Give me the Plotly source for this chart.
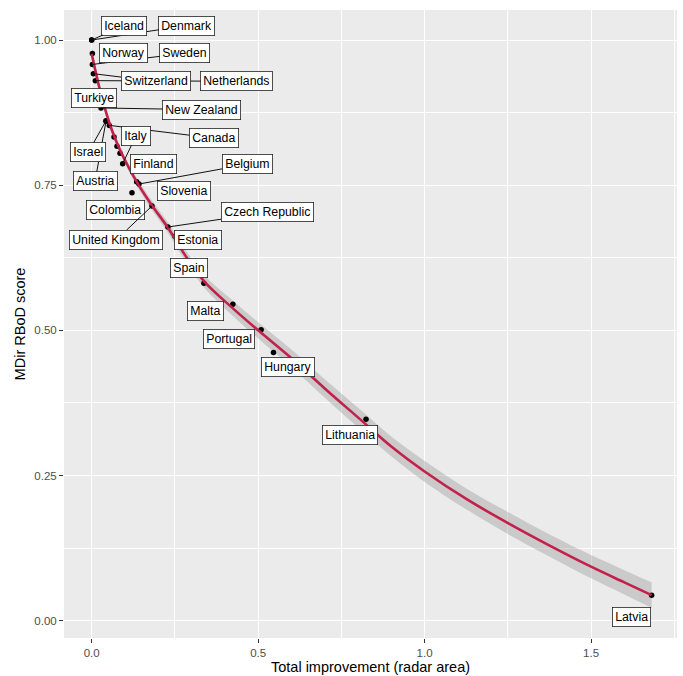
import plotly.graph_objects as go

# Country scores: total improvement (radar area) vs MDir RBoD score
countries = ["Iceland", "Denmark", "Norway", "Sweden", "Switzerland", "Netherlands",
             "Turkiye", "New Zealand", "Israel", "Austria", "Canada", None, None,
             "Finland", "Italy", "Slovenia", "Belgium", "Colombia", "United Kingdom",
             "Czech Republic", "Estonia", "Spain", "Malta", "Portugal", "Hungary",
             "Lithuania", "Latvia"]
improvement = [0.000, 0.000, 0.002, 0.002, 0.005, 0.011, 0.016, 0.028, 0.043, 0.043,
               0.053, 0.067, 0.076, 0.085, 0.093, 0.135, 0.142, 0.121, 0.181,
               0.229, 0.250, 0.337, 0.424, 0.509, 0.546, 0.824, 1.682]
score = [1.000, 1.000, 0.977, 0.958, 0.942, 0.930, 0.909, 0.883, 0.861, 0.860,
         0.853, 0.833, 0.817, 0.805, 0.787, 0.756, 0.752, 0.737, 0.714,
         0.678, 0.662, 0.581, 0.545, 0.501, 0.462, 0.347, 0.044]

# Smoothed trend with its confidence band
fit_x = [0.000, 0.010, 0.020, 0.030, 0.045, 0.060, 0.080, 0.100, 0.125, 0.150, 0.180,
         0.230, 0.280, 0.340, 0.420, 0.500, 0.600, 0.700, 0.810, 0.900, 1.000,
         1.130, 1.260, 1.380, 1.500, 1.600, 1.682]
fit_y = [0.976, 0.950, 0.925, 0.903, 0.872, 0.846, 0.817, 0.793, 0.766, 0.742, 0.716,
         0.676, 0.630, 0.583, 0.540, 0.500, 0.452, 0.400, 0.345, 0.300, 0.257,
         0.208, 0.165, 0.128, 0.093, 0.066, 0.044]
fit_se = [0.012, 0.009, 0.007, 0.006, 0.006, 0.006, 0.006, 0.006, 0.006, 0.007, 0.008,
          0.009, 0.010, 0.011, 0.013, 0.014, 0.015, 0.016, 0.017, 0.017, 0.018,
          0.018, 0.019, 0.019, 0.020, 0.021, 0.022]

# Label box centres (data units) and whether a leader segment is drawn
label_pos = {
    "Iceland": (0.097, 1.025, True), "Denmark": (0.286, 1.025, True),
    "Norway": (0.097, 0.977, False), "Sweden": (0.280, 0.977, True),
    "Switzerland": (0.192, 0.929, True), "Netherlands": (0.436, 0.929, True),
    "Turkiye": (0.007, 0.900, False), "New Zealand": (0.331, 0.880, True),
    "Israel": (-0.010, 0.807, True), "Italy": (0.133, 0.835, True),
    "Canada": (0.367, 0.831, True), "Finland": (0.186, 0.786, False),
    "Belgium": (0.467, 0.786, True), "Austria": (0.010, 0.757, True),
    "Slovenia": (0.276, 0.740, False), "Colombia": (0.070, 0.707, False),
    "Czech Republic": (0.527, 0.703, True), "United Kingdom": (0.074, 0.656, True),
    "Estonia": (0.319, 0.656, False), "Spain": (0.291, 0.607, False),
    "Malta": (0.343, 0.533, False), "Portugal": (0.411, 0.485, False),
    "Hungary": (0.590, 0.437, False), "Lithuania": (0.777, 0.320, False),
    "Latvia": (1.622, 0.007, False),
}
# segments that run underneath other labels are drawn first
draw_order = ["Denmark", "Iceland", "Sweden", "Norway", "Netherlands", "Switzerland",
              "Turkiye", "New Zealand", "Austria", "Israel", "Canada", "Italy",
              "Finland", "Belgium", "Slovenia", "Colombia", "Czech Republic",
              "United Kingdom", "Estonia", "Spain", "Malta", "Portugal", "Hungary",
              "Lithuania", "Latvia"]

FONT = "Liberation Sans, Arial, Helvetica, sans-serif"
LINE_RED = "#C3204A"

fig = go.Figure()

upper = [m + s for m, s in zip(fit_y, fit_se)]
lower = [m - s for m, s in zip(fit_y, fit_se)]
fig.add_trace(go.Scatter(x=fit_x, y=lower, mode="lines", line=dict(width=0, shape="spline"),
                         hoverinfo="skip", showlegend=False))
fig.add_trace(go.Scatter(x=fit_x, y=upper, mode="lines", line=dict(width=0, shape="spline"),
                         fill="tonexty", fillcolor="rgba(153,153,153,0.4)",
                         hoverinfo="skip", showlegend=False))
fig.add_trace(go.Scatter(x=improvement, y=score, mode="markers",
                         marker=dict(color="black", size=5.5),
                         showlegend=False))
fig.add_trace(go.Scatter(x=fit_x, y=fit_y, mode="lines",
                         line=dict(color=LINE_RED, width=2.6, shape="spline"),
                         showlegend=False))

idx = {c: i for i, c in enumerate(countries) if c}
for name in draw_order:
    lx, ly, seg = label_pos[name]
    i = idx[name]
    common = dict(text=name, font=dict(family=FONT, size=12.3, color="black"),
                  bgcolor="white", bordercolor="#222222", borderwidth=0.8, borderpad=2.4)
    if seg:
        fig.add_annotation(x=improvement[i], y=score[i], ax=lx, ay=ly,
                           axref="x", ayref="y", xref="x", yref="y",
                           showarrow=True, arrowhead=0, arrowwidth=1.0,
                           arrowcolor="#111111", standoff=0, startstandoff=0, **common)
    else:
        fig.add_annotation(x=lx, y=ly, xref="x", yref="y", showarrow=False, **common)

axis_common = dict(
    showgrid=True, gridcolor="white", gridwidth=1.1, zeroline=False, showline=False,
    ticks="outside", ticklen=4, tickwidth=1.1, tickcolor="#333333",
    tickfont=dict(family=FONT, size=11.5, color="#4D4D4D"),
)
fig.update_xaxes(range=[-0.0832, 1.7582], tick0=0, dtick=0.5, tickformat=".1f",
                 minor=dict(dtick=0.25, showgrid=True, gridcolor="white", gridwidth=0.55),
                 title=dict(text="Total improvement (radar area)", standoff=4,
                            font=dict(family=FONT, size=14.5, color="black")),
                 **axis_common)
fig.update_yaxes(range=[-0.0298, 1.0517], tick0=0, dtick=0.25, tickformat=".2f",
                 minor=dict(dtick=0.125, showgrid=True, gridcolor="white", gridwidth=0.55),
                 title=dict(text="MDir RBoD score", standoff=5,
                            font=dict(family=FONT, size=14.5, color="black")),
                 **axis_common)
fig.update_layout(
    width=683, height=676,
    margin=dict(l=64, r=6, t=10, b=38, autoexpand=False),
    paper_bgcolor="white", plot_bgcolor="#EBEBEB",
    showlegend=False,
)
fig.write_html("out.html")
